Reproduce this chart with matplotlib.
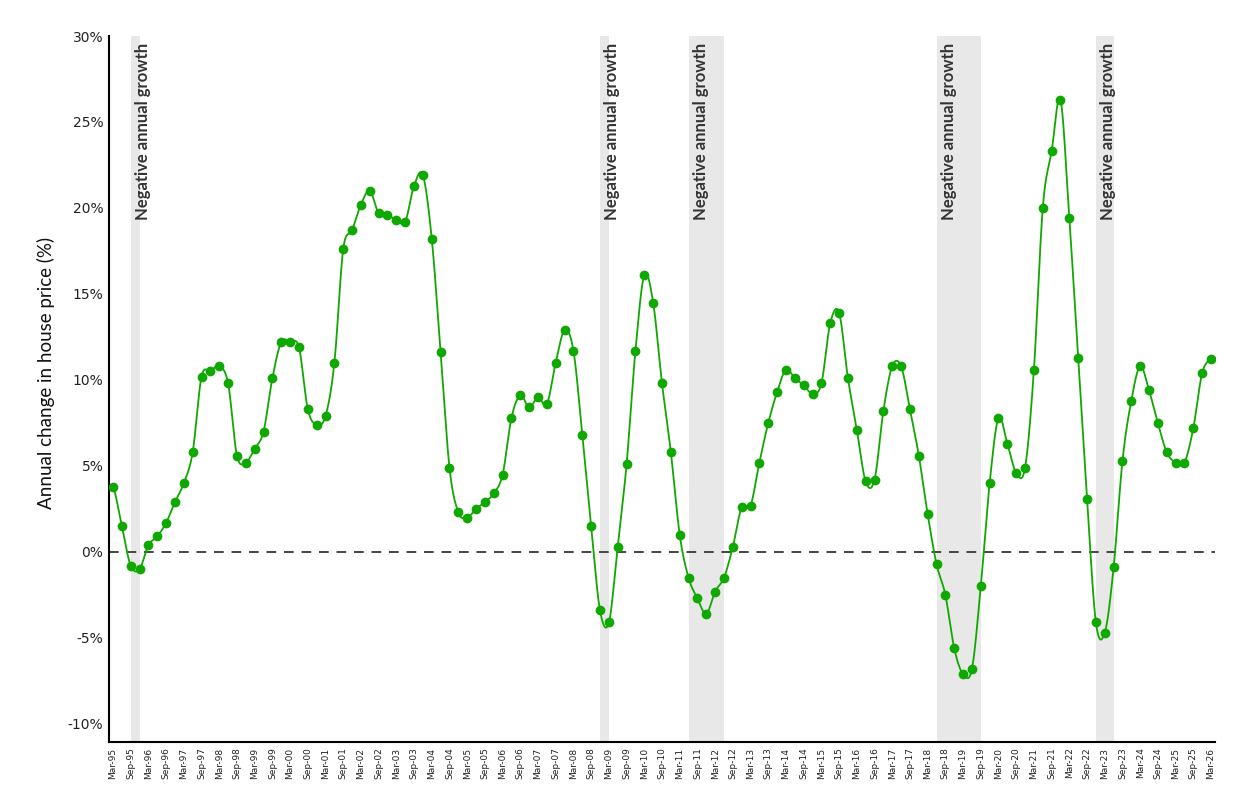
import numpy as np
import matplotlib
matplotlib.use("Agg")
import matplotlib.pyplot as plt

# quarterly annual change in house price (%), Mar-95 .. Mar-26
growth = [3.8, 1.5, -0.8, -1.0, 0.4, 0.9, 1.7, 2.9, 4.0, 5.8,
          10.2, 10.5, 10.8, 9.8, 5.6, 5.2, 6.0, 7.0, 10.1, 12.2,
          12.2, 11.9, 8.3, 7.4, 7.9, 11.0, 17.6, 18.7, 20.2, 21.0,
          19.7, 19.6, 19.3, 19.2, 21.3, 21.9, 18.2, 11.6, 4.9, 2.3,
          2.0, 2.5, 2.9, 3.4, 4.5, 7.8, 9.1, 8.4, 9.0, 8.6,
          11.0, 12.9, 11.7, 6.8, 1.5, -3.4, -4.1, 0.3, 5.1, 11.7,
          16.1, 14.5, 9.8, 5.8, 1.0, -1.5, -2.7, -3.6, -2.3, -1.5,
          0.3, 2.6, 2.7, 5.2, 7.5, 9.3, 10.6, 10.1, 9.7, 9.2,
          9.8, 13.3, 13.9, 10.1, 7.1, 4.1, 4.2, 8.2, 10.8, 10.8,
          8.3, 5.6, 2.2, -0.7, -2.5, -5.6, -7.1, -6.8, -2.0, 4.0,
          7.8, 6.3, 4.6, 4.9, 10.6, 20.0, 23.3, 26.3, 19.4, 11.3,
          3.1, -4.1, -4.7, -0.9, 5.3, 8.8, 10.8, 9.4, 7.5, 5.8,
          5.2, 5.2, 7.2, 10.4, 11.2]
months = ['Mar', 'Jun', 'Sep', 'Dec']
quarters = ['%s-%02d' % (months[i % 4], (95 + i // 4) % 100) for i in range(len(growth))]
y_ticks = [-10, -5, 0, 5, 10, 15, 20, 25, 30]
shade_label = 'Negative annual growth'

green = '#0fa800'
x = np.arange(len(growth))
y = np.array(growth)


def catmull(y, n=24):
    xs, ys = [], []
    for i in range(len(y) - 1):
        p0 = y[i - 1] if i > 0 else y[i]
        p1, p2 = y[i], y[i + 1]
        p3 = y[i + 2] if i + 2 < len(y) else y[i + 1]
        t = np.linspace(0, 1, n, endpoint=False)
        seg = 0.5 * (2 * p1 + (-p0 + p2) * t + (2 * p0 - 5 * p1 + 4 * p2 - p3) * t ** 2
                     + (-p0 + 3 * p1 - 3 * p2 + p3) * t ** 3)
        xs.append(i + t)
        ys.append(seg)
    xs.append([len(y) - 1])
    ys.append([y[-1]])
    return np.concatenate(xs), np.concatenate(ys)


fig = plt.figure(figsize=(12.47, 8), dpi=100)
ax = fig.add_axes([109 / 1247, 58 / 800, 1106 / 1247, 706 / 800])

# shaded runs of negative growth
neg = y < 0
i = 0
while i < len(y):
    if neg[i]:
        j = i
        while j + 1 < len(y) and neg[j + 1]:
            j += 1
        ax.axvspan(i, j, color='#e8e8e8', lw=0, zorder=0)
        ax.text(i + 0.5, 29.6, shade_label, rotation=90, ha='left', va='top',
                fontsize=12, fontweight='bold', color='#333333', family='Lato')
        i = j + 1
    else:
        i += 1

ax.axhline(0, color='#444444', lw=1.4, ls=(0, (5, 4)), zorder=1)

sx, sy = catmull(y)
ax.plot(sx, sy, color=green, lw=1.3, zorder=3)
ax.plot(x, y, 'o', color=green, ms=6, zorder=4)

ax.set_xlim(-0.45, len(y) - 1 + 0.45)
ax.set_ylim(-11.05, 30)
ax.set_yticks(y_ticks)
ax.set_yticklabels(['%d%%' % v for v in y_ticks], fontsize=10, color='#222222')
ax.set_xticks(x[::2])
ax.set_xticklabels(quarters[::2], rotation=90, fontsize=6.5, color='#222222')
ax.tick_params(axis='both', length=0, pad=4)
for s in ['top', 'right']:
    ax.spines[s].set_visible(False)
ax.spines['left'].set_linewidth(1.5)
ax.spines['bottom'].set_linewidth(1.5)

fig.text(46 / 1247, 1 - 373 / 800, 'Annual change in house price (%)', rotation=90,
         ha='center', va='center', fontsize=13.5, family='Lato', color='#111111')

fig.savefig('out.png', dpi=100)
